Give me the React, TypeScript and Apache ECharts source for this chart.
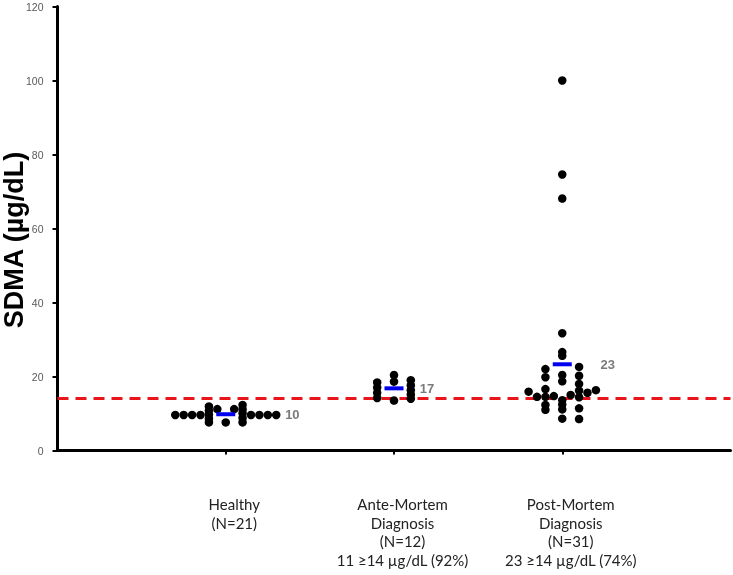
import React, { useEffect, useRef } from 'react';
import * as echarts from 'echarts';

// Category labels (x axis)
const categories: string[] = [
  'Healthy\n(N=21)',
  'Ante-Mortem\nDiagnosis\n(N=12)\n11 \u226514 \u00b5g/dL (92%)',
  'Post-Mortem\nDiagnosis\n(N=31)\n23 \u226514 \u00b5g/dL (74%)',
];

// Y axis ticks
const yMin = 0;
const yMax = 120;
const yStep = 20;
const yTitle = 'SDMA (\u00b5g/dL)';

// Threshold (µg/dL)
const threshold = 14;

// Healthy group: SDMA values and horizontal dot slot (beeswarm column)
const healthyValues = [9.6, 9.6, 9.6, 9.6, 11.9, 10.8, 9.7, 8.6, 7.6, 11.2, 7.6, 11.2, 12.3, 11.1, 10.0, 8.8, 7.6, 9.6, 9.6, 9.6, 9.6];
const healthySlots = [-6, -5, -4, -3, -2, -2, -2, -2, -2, -1, 0, 1, 2, 2, 2, 2, 2, 3, 4, 5, 6];

// Ante-mortem diagnosis group
const anteValues = [20.4, 18.6, 13.5, 18.4, 17.0, 15.6, 14.2, 19.0, 17.6, 16.3, 15.1, 14.0];
const anteSlots = [0, 0, 0, -2, -2, -2, -2, 2, 2, 2, 2, 2];

// Post-mortem diagnosis group
const postValues = [
  100, 74.6, 68.1, 31.7, 26.6, 25.6, 20.4, 18.7, 13.6, 12.4, 11.1, 8.6,
  22.0, 19.8, 16.6, 14.5, 12.3, 11.0,
  22.6, 20.2, 18.0, 16.2, 14.4, 11.4, 8.5,
  15.9, 14.5, 14.7, 15.0, 15.6, 16.3,
];
const postSlots = [
  0, 0, 0, 0, 0, 0, 0, 0, 0, 0, 0, 0,
  -2, -2, -2, -2, -2, -2,
  2, 2, 2, 2, 2, 2, 2,
  -4, -3, -1, 1, 3, 4,
];

// Group means (blue bars) and where their labels sit (in dot slots)
const meanValues = [9.8, 16.8, 23.3];
const meanLabelSlots = [7, 3, 4.5];

const groups = [
  { values: healthyValues, slots: healthySlots },
  { values: anteValues, slots: anteSlots },
  { values: postValues, slots: postSlots },
];

const SLOT = 0.05; // width of one dot column in x-axis units

export default function App() {
  const ref = useRef<HTMLDivElement>(null);

  useEffect(() => {
    if (!ref.current) return;
    const chart = echarts.init(ref.current, null, { renderer: 'svg' });

    const dots: number[][] = [];
    groups.forEach((g, gi) => {
      g.values.forEach((v, i) => {
        dots.push([gi + 1 + g.slots[i] * SLOT, v]);
      });
    });
    const means = meanValues.map((v, i) => [i + 1, v]);
    const meanLabels = meanValues.map((v, i) => [i + 1 + meanLabelSlots[i] * SLOT, v]);

    chart.setOption({
      animation: false,
      grid: {
        left: 57.5,
        right: 2.5,
        top: 6.5,
        bottom: 124.5,
        containLabel: false,
        outerBoundsMode: 'none',
      },
      graphic: [
        {
          type: 'text',
          x: 14,
          y: 240,
          rotation: Math.PI / 2,
          style: {
            text: yTitle,
            fontFamily: 'Liberation Sans',
            fontWeight: 'bold',
            fontSize: 27,
            fill: '#000',
            textAlign: 'center',
            textVerticalAlign: 'middle',
          },
        },
      ],
      xAxis: {
        type: 'value',
        min: 0,
        max: 4,
        interval: 1,
        splitLine: { show: false },
        axisLine: { show: true, onZero: false, lineStyle: { color: '#000', width: 3 } },
        axisTick: {
          show: true,
          length: 4,
          customValues: [1, 2, 3],
          lineStyle: { color: '#000', width: 2 },
        },
        axisLabel: {
          show: true,
          customValues: [1, 2, 3],
          margin: 44,
          formatter: (val: number) => categories[Math.round(val) - 1] ?? '',
          fontFamily: 'Lato',
          fontSize: 15,
          lineHeight: 18.7,
          color: '#222',
          verticalAlign: 'top',
          padding: [0, 0, 0, 17],
        },
      },
      yAxis: {
        type: 'value',
        min: yMin,
        max: yMax,
        interval: yStep,
        splitLine: { show: false },
        axisLine: { show: true, lineStyle: { color: '#000', width: 3 } },
        axisTick: { show: true, length: 5, lineStyle: { color: '#000', width: 2 } },
        axisLabel: {
          margin: 14,
          fontFamily: 'Liberation Sans',
          fontSize: 10.5,
          color: '#595959',
        },
      },
      series: [
        {
          type: 'scatter',
          data: dots,
          symbol: 'circle',
          symbolSize: 8.5,
          itemStyle: { color: '#000', opacity: 1 },
          z: 3,
          markLine: {
            silent: true,
            symbol: ['none', 'none'],
            label: { show: false },
            lineStyle: { color: '#e8161c', type: [11, 7], width: 3 },
            data: [{ yAxis: threshold }],
            z: 2,
          },
        },
        {
          type: 'scatter',
          data: means,
          symbol: 'rect',
          symbolSize: [19, 4],
          itemStyle: { color: '#0000ee', opacity: 1 },
          z: 5,
        },
        {
          type: 'scatter',
          data: meanLabels,
          symbolSize: 1,
          itemStyle: { color: 'rgba(0,0,0,0)' },
          z: 6,
          label: {
            show: true,
            position: 'right',
            distance: 0,
            formatter: (p: any) => String(Math.round(p.value[1])),
            fontFamily: 'Liberation Sans',
            fontWeight: 'bold',
            fontSize: 13,
            color: '#595959',
          },
        },
      ],
    });

    return () => chart.dispose();
  }, []);

  return (
    <div
      ref={ref}
      style={{ position: 'fixed', left: 0, top: 0, width: 733, height: 575 }}
    />
  );
}
